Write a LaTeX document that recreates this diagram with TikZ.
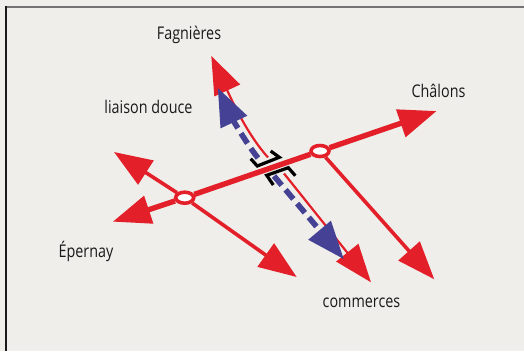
\documentclass[tikz,border=0pt]{standalone}
\usepackage{fontspec}
\setmainfont[FakeStretch=0.82]{Open Sans}
\usetikzlibrary{arrows.meta,shapes.geometric}
\definecolor{fond}{HTML}{EFEEEA}
\definecolor{rouge}{HTML}{E3202A}
\definecolor{bleu}{HTML}{454195}
\tikzset{
    tip/.style={-{Triangle[length=38pt,width=28pt]}},
    label/.style={font=\fontsize{17.5}{20}\selectfont,text=black!90,inner sep=0pt},
    rond/.style={draw=rouge,fill=white,ellipse,line width=3.6pt,minimum width=18pt,minimum height=11pt,inner sep=0pt},
    axe/.style={draw=rouge,line width=5.4pt,tip},
    branche/.style={draw=rouge,line width=3.6pt,tip},
    voie/.style={draw=rouge,line width=2.2pt,tip},
    douce/.style={draw=bleu,line width=5.6pt,dash pattern=on 12pt off 6pt,tip},
    pont/.style={draw=black,line width=3.2pt,miter limit=4}
}
\begin{document}
\begin{tikzpicture}[x=1pt,y=-1pt]
    \useasboundingbox[fill=fond] (0,0) rectangle (524,351);
    \draw[black!55,line width=2pt] (6,6.5) -- (524,6.5);
    \draw[black!90,line width=1.6pt] (6,6) -- (6,351);

    \node[label] (F) at (189,   35) {Fagnières};
    \node[label] (L) at (148.5, 107) {liaison douce};
    \node[label] (C) at (438.5, 91) {Châlons};
    \node[label] (E) at (86,    251) {Épernay};
    \node[label] (M) at (361.5, 303) {commerces};

    \coordinate (tE)  at (112.7, 221.7);
    \coordinate (tC)  at (436.7, 111);
    \coordinate (tN)  at (114,   152);
    \coordinate (tS)  at (296.7, 277);
    \coordinate (tD)  at (434.3, 279.3);
    \coordinate (tF)  at (211.3, 56);
    \coordinate (tM)  at (371,   282.3);
    \coordinate (bF)  at (217.7, 87.7);
    \coordinate (bM)  at (344,   259.3);
    \coordinate (vN)  at (268,   157.5);
    \coordinate (vS)  at (284,   173.5);
    \coordinate (dN)  at (258,   158);
    \coordinate (dS)  at (274,   176);

    \node[rond] (J1) at (184.7, 197.7) {};
    \node[rond] (J2) at (320,   151) {};

    \draw[voie]   (vN) .. controls (248,135) and (234,105) .. (tF);
    \draw[voie]   (vS) -- (tM);
    \draw[douce]  (dN) .. controls (246,143) and (232,118) .. (bF);
    \draw[douce]  (dS) -- (bM);
    \draw[branche] (J1) -- (tN);
    \draw[branche] (J1) -- (tS);
    \draw[branche] (J2) -- (tD);
    \draw[axe]    (J1) -- (tE);
    \draw[axe]    (J2) -- (tC);
    \draw[rouge,line width=5.4pt] (J1) -- (J2);

    \draw[pont] (250.7,158.7) -- (257.3,166) -- (279.3,157.3) -- (270.7,151);
    \draw[pont] (273.3,185) -- (266.7,175.3) -- (288.3,167.7) -- (295.3,175.7);
\end{tikzpicture}
\end{document}
